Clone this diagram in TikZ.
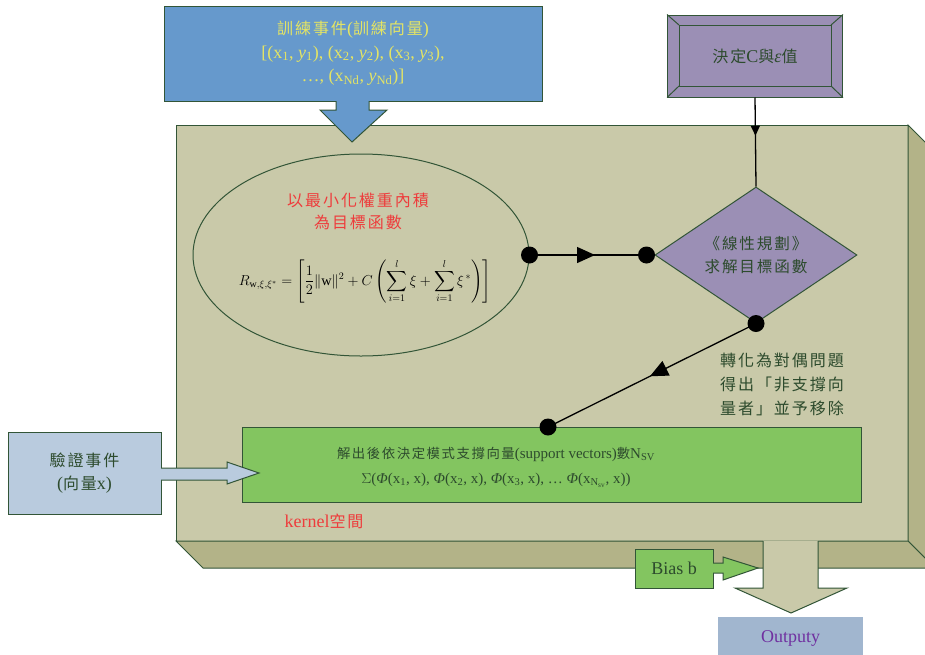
\documentclass[tikz,border=0pt]{standalone}
\usepackage{amsmath}
\usepackage{fontspec}
\setmainfont{Liberation Serif}
\newfontfamily\cjkf[Scale=0.89,LetterSpace=12]{Noto Sans CJK TC}
\newcommand{\C}[1]{{\cjkf #1}}
\usetikzlibrary{shapes.geometric,arrows.meta,decorations.markings}
\definecolor{edge}{RGB}{50,85,55}
\definecolor{txt}{RGB}{45,75,45}
\definecolor{bluebox}{RGB}{102,153,204}
\definecolor{yel}{RGB}{228,228,100}
\definecolor{purp}{RGB}{155,143,181}
\definecolor{front}{RGB}{201,201,169}
\definecolor{side}{RGB}{179,179,136}
\definecolor{grn}{RGB}{131,197,96}
\definecolor{ltblue}{RGB}{185,203,222}
\definecolor{outb}{RGB}{161,182,207}
\definecolor{redt}{RGB}{238,60,60}
\definecolor{outt}{RGB}{112,48,160}
\tikzset{
  bx/.style={draw=edge, line width=1pt, inner sep=0pt},
  conn/.style={black, line width=1.3pt},
  midarrow/.style={decoration={markings, mark=at position #1 with {\arrow{Triangle[length=18pt,width=16pt]}}}, postaction=decorate},
  smallarrow/.style={decoration={markings, mark=at position #1 with {\arrow{Triangle[length=10pt,width=9pt]}}}, postaction=decorate},
  dot/.style={black},
  big/.style={font=\fontsize{18}{23.5}\selectfont}
}
\begin{document}
\begin{tikzpicture}[x=1pt,y=-1pt]
\useasboundingbox (0,0) rectangle (925,654);
\begin{scope}
\clip (0,0) rectangle (925,654);
% 3D kernel box
\draw[edge, line width=1pt, fill=front] (176,125) rectangle (908,541);
\draw[edge, line width=1pt, fill=side] (908,125) -- (935,152) -- (935,568) -- (908,541) -- cycle;
\draw[edge, line width=1pt, fill=side] (176,541) -- (203,568) -- (935,568) -- (908,541) -- cycle;

% training box and arrow
\node[bx, fill=bluebox, minimum width=378pt, minimum height=95pt, text=yel, big, align=center] (tr) at (353,53.5)
 {\C{訓練事件}(\C{訓練向量})\\
  {[}(x\textsubscript{1}, \textit{y}\textsubscript{1}), (x\textsubscript{2}, \textit{y}\textsubscript{2}), (x\textsubscript{3}, \textit{y}\textsubscript{3}),\\
  \dots, (x\textsubscript{Nd}, \textit{y}\textsubscript{Nd})]};
\fill[bluebox] (336,100.5) -- (336,110) -- (320,110) -- (352,142) -- (387,110) -- (369,110) -- (369,100.5) -- cycle;
\draw[edge, line width=1pt] (336,101) -- (336,110) -- (320,110) -- (352,142) -- (387,110) -- (369,110) -- (369,101);

% C and epsilon box
\node[bx, fill=purp, minimum width=175pt, minimum height=82pt, text=txt, big] (cv) at (755,56) {\C{決定}C\C{與}\textit{ε}\C{值}};
\draw[edge, line width=1pt] (679,25) rectangle (831,86);
\draw[edge, line width=1pt] (cv.north west) -- (679,25) (cv.north east) -- (831,25) (cv.south west) -- (679,86) (cv.south east) -- (831,86);

% ellipse
\node[ellipse, draw=edge, line width=1pt, minimum width=336pt, minimum height=202pt, inner sep=0pt] (ell) at (361,255) {};
\node[text=redt, align=center, font=\fontsize{18}{22}\selectfont] (elt) at (358,211) {\C{以最小化權重內積}\\\C{為目標函數}};
\node[font=\fontsize{14.3}{17}\selectfont] (frm) at (365,281)
 {$\displaystyle R_{\mathrm{w},\xi,\xi^*} = \left[\frac{1}{2}\|\mathrm{w}\|^2 + C\left(\sum_{i=1}^{l}\xi + \sum_{i=1}^{l}\xi^{\,*}\right)\right]$};

% diamond
\node[diamond, draw=edge, line width=1pt, fill=purp, minimum width=202pt, minimum height=136pt, aspect=1.5, inner sep=0pt,
      text=txt, align=center, font=\fontsize{17.5}{23}\selectfont] (dia) at (756,255) {\C{《線性規劃》}\\\C{求解目標函數}};

% label
\node[text=txt, align=left, font=\fontsize{18}{24}\selectfont] (lab) at (782,384) {\C{轉化為對偶問題}\\\C{得出「非支撐向}\\\C{量者」並予移除}};

% green box
\node[bx, fill=grn, minimum width=619pt, minimum height=75pt] (gb) at (551.5,464.5) {};
\node[text=txt, align=center, font=\fontsize{15}{25}\selectfont] (gbt) at (496,467)
 {\C{解出後依決定模式支撐向量}(support vectors)\C{數}N\textsubscript{SV}\\
  $\Sigma$(\textit{Φ}(x\textsubscript{1}, x), \textit{Φ}(x\textsubscript{2}, x), \textit{Φ}(x\textsubscript{3}, x), \dots\ \textit{Φ}(x\textsubscript{N\textsubscript{sv}}, x))};
\node[text=redt, big] (ker) at (324,521) {kernel\C{空間}};

% validation box + arrow
\node[bx, fill=ltblue, minimum width=153pt, minimum height=82pt, text=txt, big, align=center] (vb) at (84.5,473) {\C{驗證事件}\\(\C{向量}x)};
\fill[ltblue] (160.5,468) -- (227,468) -- (227,462) -- (259,473) -- (227,484) -- (227,480) -- (160.5,480) -- cycle;
\draw[edge, line width=1pt] (161,468) -- (227,468) -- (227,462) -- (259,473) -- (227,484) -- (227,480) -- (161,480);

% connectors
\coordinate (d2) at ([xshift=-8pt]dia.west);
\coordinate (d4) at (548,427);
\draw[conn, smallarrow=0.43] (cv.south) -- (dia.north);
\draw[conn, midarrow=0.56] (ell.east) -- (d2);
\draw[conn, midarrow=0.51] (dia.south) -- (d4);
\fill[dot] (ell.east) circle (8.5pt);
\fill[dot] (d2) circle (8.5pt);
\fill[dot] (dia.south) circle (8.5pt);
\fill[dot] (d4) circle (8.5pt);

% output arrow
\fill[front] (763,540.5) -- (763,588) -- (735,588) -- (791,613) -- (847,588) -- (818,588) -- (818,540.5) -- cycle;
\draw[edge, line width=1pt] (763,541) -- (763,588) -- (735,588) -- (791,613) -- (847,588) -- (818,588) -- (818,541);

% bias box + arrow
\node[bx, fill=grn, minimum width=78pt, minimum height=39pt, text=txt, big] (bias) at (674,568.5) {Bias b};
\fill[grn] (712.5,563) -- (723,563) -- (723,557) -- (758,568) -- (723,580) -- (723,573) -- (712.5,573) -- cycle;
\draw[edge, line width=1pt] (713,563) -- (723,563) -- (723,557) -- (758,568) -- (723,580) -- (723,573) -- (713,573);

% output box
\node[fill=outb, minimum width=145pt, minimum height=42pt, inner sep=0pt, text=outt, big] (out) at (790.5,638) {Outputy};
\end{scope}
\end{tikzpicture}
\end{document}
